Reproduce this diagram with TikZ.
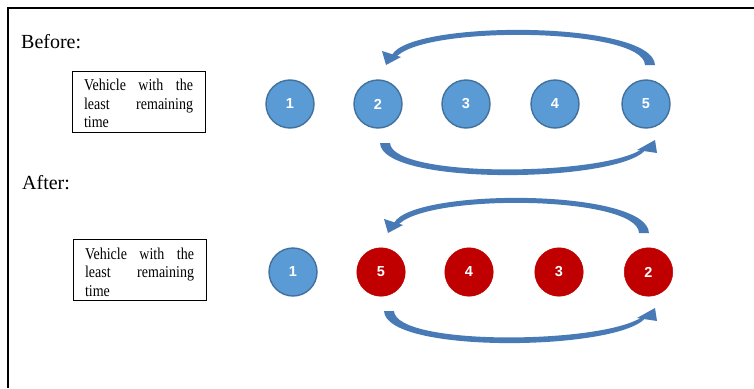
\documentclass[tikz,border=0pt]{standalone}
\usepackage{graphicx}
\usepackage{fontspec}
\setmainfont{Liberation Serif}
\newfontfamily\numfont{Liberation Sans}
\definecolor{cblue}{HTML}{5B9BD5}
\definecolor{cbord}{HTML}{41719C}
\definecolor{cred}{HTML}{C00000}
\definecolor{carr}{RGB}{72,122,182}
\newcommand{\vehtext}{\scalebox{1}[1.18]{\parbox[c][51.7pt][t]{109pt}{%
  \baselineskip=15.7pt
  \hbox to 109pt{\rule{0pt}{16.9pt}Vehicle\hfill with\hfill the}%
  \hbox to 109pt{least\hfill remaining}%
  \hbox{time}}}}
\tikzset{
  bc/.style={circle, fill=cblue, draw=cbord, line width=1.4pt, minimum size=48pt, inner sep=0pt,
     font=\numfont\bfseries\fontsize{14.5}{16}\selectfont, text=white},
  rc/.style={circle, fill=cred, draw=cred, line width=0.5pt, minimum size=48.5pt, inner sep=0pt,
     font=\numfont\bfseries\fontsize{14.5}{16}\selectfont, text=white},
  infobox/.style={draw=black, line width=0.9pt, inner xsep=12pt, inner ysep=0pt,
     font=\rmfamily\fontsize{14}{15.7}\selectfont},
  heading/.style={anchor=base west, inner sep=0pt, font=\fontsize{20}{24}\selectfont},
  arr/.style={fill=carr}
}
\begin{document}
\begin{tikzpicture}[x=1pt,y=-1pt]
\useasboundingbox (0,0) rectangle (754,388);
\fill[white] (0,0) rectangle (754,388);
% frame
\draw[line width=2pt] (8,388) -- (8,8) -- (754,8);

% headings
\node[heading] (before) at (21,48) {Before:};
\node[heading] (after) at (22,189) {After:};

% info boxes
\node[infobox] (box1) at (138.5,101.5) {\vehtext};
\node[infobox] (box2) at (139.5,270) {\vehtext};

% row 1
\node[bc] (a1) at (290,104) {1};
\node[bc] (a2) at (378,104) {2};
\node[bc] (a3) at (466,104) {3};
\node[bc] (a4) at (555,104) {4};
\node[bc] (a5) at (646,104) {5};

% row 2
\node[bc] (b1) at (293,272) {1};
\node[rc] (b5) at (381,272) {5};
\node[rc] (b4) at (469,272) {4};
\node[rc] (b3) at (559,272) {3};
\node[rc] (b2) at (648.5,272) {2};

% row 1 top arrow (from 5 over to 2)
\fill[arr] (655,65) .. controls (653,20) and (410,20) .. (392,55) -- (395,58.5)
   .. controls (418,25) and (644,27) .. (645,65) -- cycle;
\fill[arr] (382,51) -- (386,65) -- (401,57) -- cycle;
% row 1 bottom arrow (from 2 under to 5)
\fill[arr] (380,143) .. controls (382,186) and (615,183) .. (645,150.5) -- (644,147.5)
   .. controls (610,176) and (392,179) .. (390,143) -- cycle;
\fill[arr] (637,150) -- (657,153) -- (655,140) -- cycle;

% row 2 top arrow
\fill[arr] (649,233) .. controls (647,188) and (412,188) .. (394,223) -- (397,226.5)
   .. controls (420,193) and (638,195) .. (639,233) -- cycle;
\fill[arr] (384,219) -- (388,233) -- (403,225) -- cycle;
% row 2 bottom arrow
\fill[arr] (384,311) .. controls (386,354) and (615,351) .. (645,318.5) -- (644,315.5)
   .. controls (610,344) and (396,347) .. (394,311) -- cycle;
\fill[arr] (637,318) -- (657,321) -- (655,308) -- cycle;
\end{tikzpicture}
\end{document}
